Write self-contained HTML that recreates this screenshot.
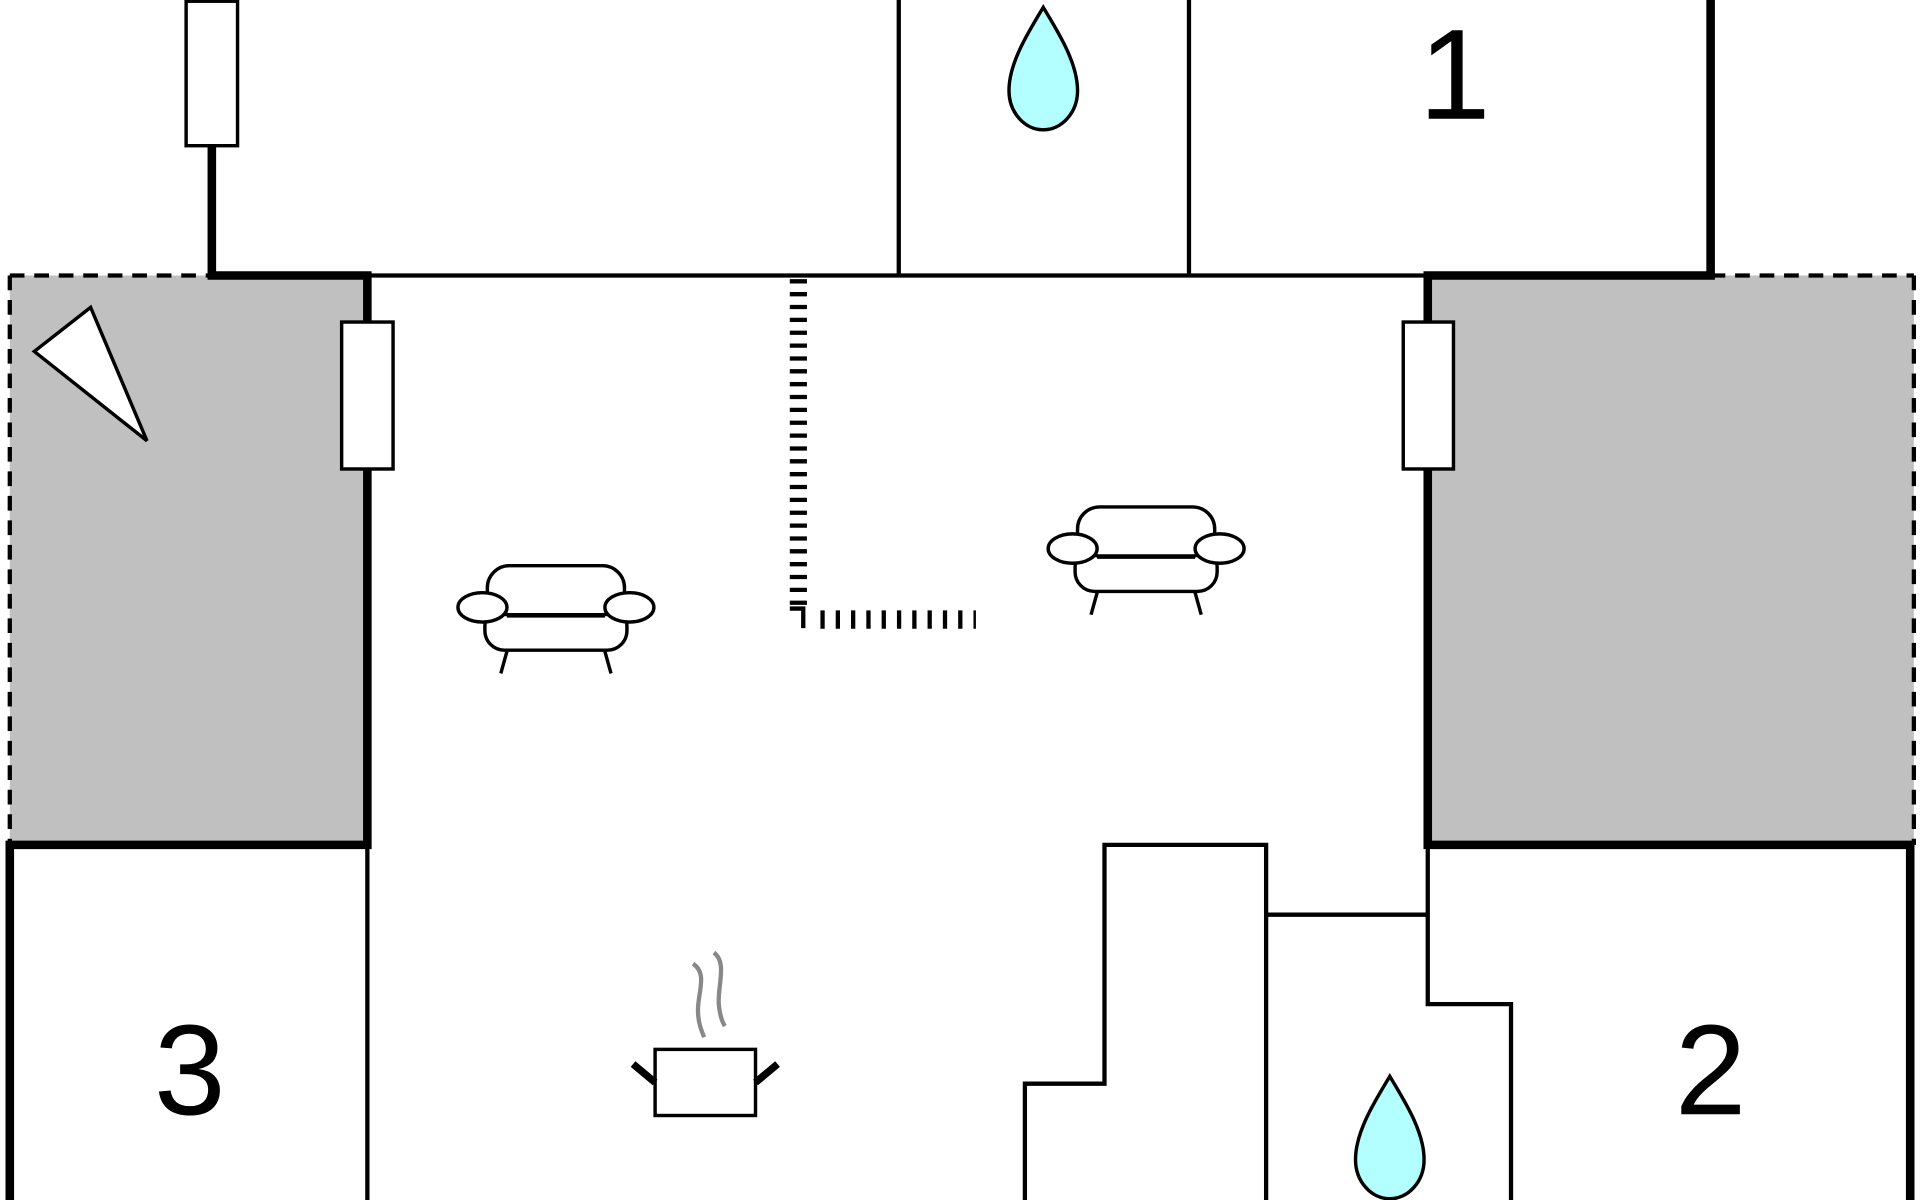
<!DOCTYPE html>
<html><head><meta charset="utf-8"><style>
html,body{margin:0;padding:0;background:#fff;width:1920px;height:1200px;overflow:hidden}
svg{display:block}
text{font-family:"Liberation Sans",sans-serif}
</style></head><body>
<svg width="1920" height="1200" viewBox="0 0 1568 980" xmlns="http://www.w3.org/2000/svg">
<defs>
<g id="sofa" fill="#fff" stroke="#000" stroke-width="2.8">
  <line x1="-40" y1="32" x2="-45" y2="50"/><line x1="40" y1="32" x2="45" y2="50"/>
  <rect x="-58" y="-5" width="116" height="36" rx="16"/>
  <rect x="-56" y="-38" width="112" height="40" rx="18"/>
  <ellipse cx="-60" cy="-4" rx="20" ry="12"/>
  <ellipse cx="60" cy="-4" rx="20" ry="12"/>
  <line x1="-40" y1="3" x2="40" y2="3"/>
</g>
<path id="drop" d="M0,0 C-12,20 -28,45 -28,68 C-28,86 -15,100 0,100 C15,100 28,86 28,68 C28,45 12,20 0,0 Z" fill="#b3ffff" stroke="#000" stroke-width="2.8"/>
</defs>
<rect x="8" y="225" width="292" height="465" fill="#c0c0c0"/>
<rect x="1166" y="225" width="397" height="465" fill="#c0c0c0"/>
<g stroke="#000" stroke-width="3.5" stroke-dasharray="12 8" fill="none">
  <line x1="8" y1="225" x2="173" y2="225"/>
  <line x1="8" y1="225" x2="8" y2="690"/>
  <line x1="1397" y1="225" x2="1563" y2="225"/>
  <line x1="1563" y1="225" x2="1563" y2="690"/>
</g>
<g stroke="#000" fill="none">
  <line x1="300" y1="225" x2="1166" y2="225" stroke-width="3.5"/>
  <line x1="734" y1="0" x2="734" y2="225" stroke-width="3.5"/>
  <line x1="971" y1="0" x2="971" y2="225" stroke-width="3.5"/>
  <polyline points="173,119 173,225 300,225 300,690 8,690 8,980" stroke-width="7"/>
  <polyline points="1397,0 1397,225 1166,225 1166,690 1560,690 1560,980" stroke-width="7"/>
  <line x1="300" y1="690" x2="300" y2="980" stroke-width="3.5"/>
  <polyline points="837,980 837,885 902,885 902,690 1034,690 1034,980" stroke-width="3.5"/>
  <line x1="1034" y1="747" x2="1166" y2="747" stroke-width="3.5"/>
  <polyline points="1166,690 1166,820 1234,820 1234,980" stroke-width="3.5"/>
  <line x1="652" y1="228" x2="652" y2="496" stroke-width="14" stroke-dasharray="3.5 7"/>
  <polyline points="645,497 656,497 656,513" stroke-width="3.5"/>
  <line x1="670" y1="506" x2="797" y2="506" stroke-width="15" stroke-dasharray="3.5 9"/>
</g>
<rect x="152" y="1" width="42" height="118" fill="#fff" stroke="#000" stroke-width="2.8"/>
<rect x="279" y="263" width="42" height="120" fill="#fff" stroke="#000" stroke-width="2.8"/>
<rect x="1146" y="263" width="41" height="120" fill="#fff" stroke="#000" stroke-width="2.8"/>
<polygon points="28,287 74,251 120,360" fill="#fff" stroke="#000" stroke-width="2.8"/>
<use href="#drop" x="852" y="6"/>
<use href="#drop" x="1135" y="879"/>
<use href="#sofa" x="454" y="500"/>
<use href="#sofa" x="936" y="452"/>
<g stroke="#000" stroke-width="2.8" fill="#fff">
  <rect x="535" y="857" width="82" height="54"/>
  <path d="M535,884 L517,869" stroke-width="6"/>
  <path d="M617,884 L635,869" stroke-width="6"/>
</g>
<g stroke="#888" stroke-width="3.5" fill="none">
  <path d="M566,787 C578,795 570,810 570,825 C570,835 573,842 575,847"/>
  <path d="M583,778 C594,786 586,805 587,820 C588,830 590,835 592,838"/>
</g>
<text x="1188" y="97" font-size="105" text-anchor="middle">1</text>
<text x="1397" y="910" font-size="105" text-anchor="middle">2</text>
<text x="155" y="910" font-size="105" text-anchor="middle">3</text>
</svg>
</body></html>
